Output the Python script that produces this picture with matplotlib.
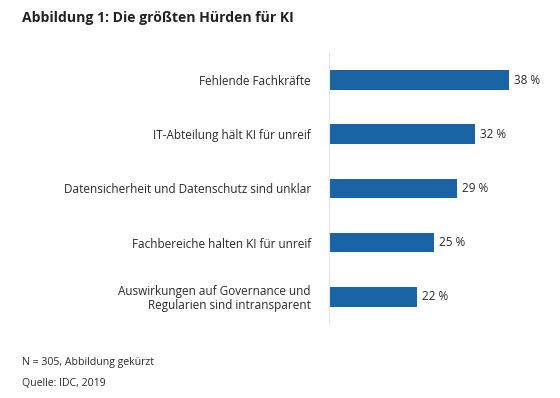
import matplotlib
matplotlib.use('Agg')
import matplotlib.pyplot as plt

plt.rcParams['font.family'] = ['Open Sans', 'DejaVu Sans']

# data
categories = ['Fehlende Fachkräfte',
              'IT-Abteilung hält KI für unreif',
              'Datensicherheit und Datenschutz sind unklar',
              'Fachbereiche halten KI für unreif',
              'Auswirkungen auf Governance und\nRegularien sind intransparent']
values = [38, 32, 29, 25, 22]
value_labels = ['38 %', '32 %', '29 %', '25 %', '22 %']

title = 'Abbildung 1: Die größten Hürden für KI'
note = 'N = 305, Abbildung gekürzt'
source = 'Quelle: IDC, 2019'

bar_color = '#1a64a6'
text_color = '#2a2a2a'

fig = plt.figure(figsize=(5.6, 3.98), dpi=100)
ax = fig.add_axes([0.5875, 0.186, 0.377, 0.681])

ypos = list(range(len(categories)))
ax.barh(ypos, values, height=0.36, color=bar_color)
ax.set_yticks(ypos)
ax.set_yticklabels(categories, fontsize=8.5, color=text_color, ha='right',
                   linespacing=1.1)
ax.set_ylim(len(categories) - 0.5, -0.5)
# the original's axis does not start at zero
ax.set_xlim(6.7, 43.4)
ax.set_xticks([])
ax.tick_params(axis='y', length=0, pad=13)

for y, v, lab in zip(ypos, values, value_labels):
    ax.annotate(lab, (v, y), xytext=(5, 0), textcoords='offset pixels',
                va='center', ha='left', fontsize=8.5, color=text_color)

for side in ['top', 'right', 'bottom']:
    ax.spines[side].set_visible(False)
ax.spines['left'].set_color('#e4e4e4')
ax.spines['left'].set_linewidth(0.8)

fig.text(22 / 560, 1 - 18 / 398, title, fontsize=10.1, fontweight='bold',
         color='#222222', va='center', ha='left')
fig.text(22 / 560, 1 - 362 / 398, note, fontsize=7.6, color=text_color,
         va='center', ha='left')
fig.text(22 / 560, 1 - 384 / 398, source, fontsize=7.6, color=text_color,
         va='center', ha='left')

fig.savefig('out.png', dpi=100, facecolor='white')
